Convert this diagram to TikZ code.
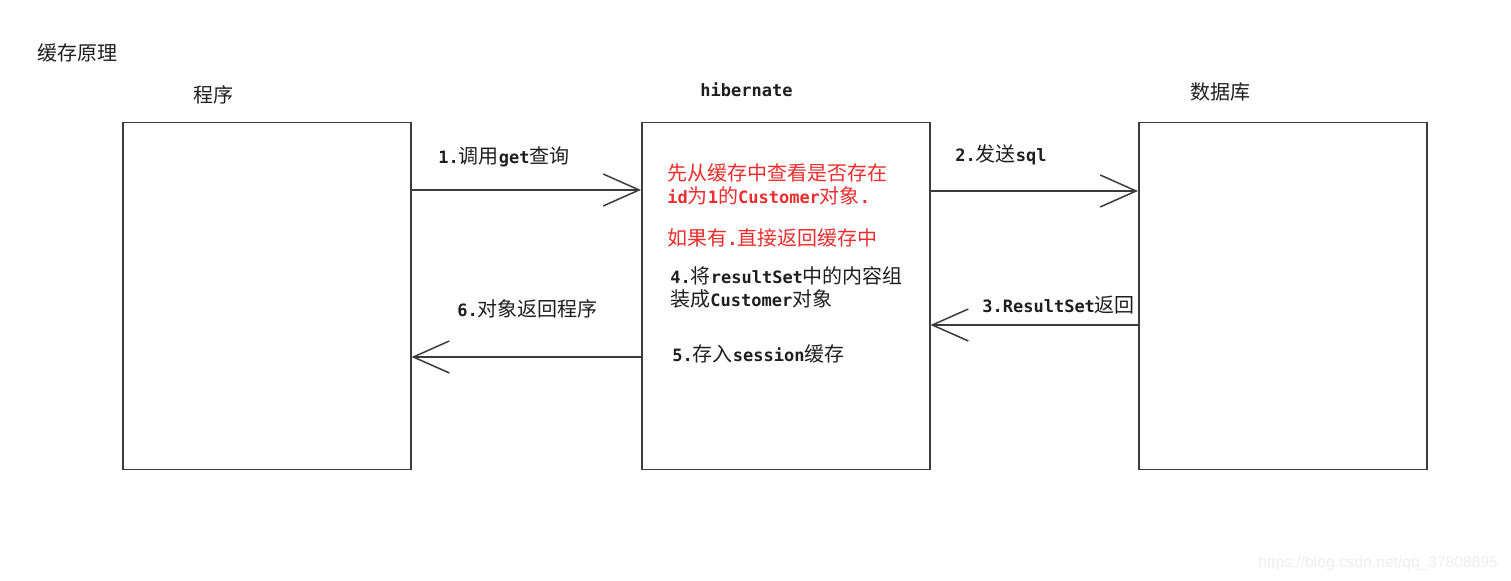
\documentclass[tikz,border=0pt]{standalone}
\usepackage{fontspec}
\setmainfont{Noto Sans CJK SC}
\newfontfamily\monofam{DejaVu Sans Mono}[Scale=0.85]
\newfontfamily\wmfont{Liberation Sans}
\usetikzlibrary{arrows.meta}
\definecolor{txt}{RGB}{30,30,30}
\definecolor{line}{RGB}{60,60,60}
\definecolor{redtxt}{RGB}{235,45,45}
\newcommand{\m}[1]{{\monofam\bfseries #1}}

\begin{document}
\begin{tikzpicture}[
  x=0.5pt, y=-0.5pt,
  every node/.style={inner sep=0pt, font=\fontsize{10}{11.5}\selectfont, text=txt},
  box/.style={draw=line, line width=0.75pt, minimum width=144pt, minimum height=173.5pt, anchor=north west},
  lbl/.style={anchor=west, align=left},
  note/.style={lbl, text=redtxt},
  arr/.style={-{Straight Barb[length=18pt, width=16pt]}, draw=line, line width=0.75pt},
]
\useasboundingbox (0,0) rectangle (1511,581);
\node[lbl] (title) at (37,53) {缓存原理};
\node[box] (prog) at (122,122) {};
\node[box] (hib) at (641,122) {};
\node[box] (db) at (1138,122) {};
\node[lbl] (progT) at (193,95) {程序};
\node[lbl] (hibT) at (700,90) {\m{hibernate}};
\node[lbl] (dbT) at (1190,92) {数据库};
% calls and answers between the three parts
\draw[arr] ([yshift=-34pt]prog.north east) -- ([yshift=-34pt]hib.north west);
\draw[arr] ([yshift=-34.5pt]hib.north east) -- ([yshift=-34.5pt]db.north west);
\draw[arr] ([yshift=-101.5pt]db.north west) -- ([yshift=-101.5pt]hib.north east);
\draw[arr] ([yshift=-117.5pt]hib.north west) -- ([yshift=-117.5pt]prog.north east);
\node[lbl] (s1) at (438,157) {\m{1.}调用\m{get}查询};
\node[lbl] (s2) at (955,155) {\m{2.}发送\m{sql}};
\node[lbl] (s3) at (982,305) {\m{3.ResultSet}返回};
\node[lbl] (s6) at (457,309) {\m{6.}对象返回程序};
\node[note] (chk) at (667,184) {先从缓存中查看是否存在\\\m{id}为\m{1}的\m{Customer}对象\m{.}};
\node[note] (hit) at (667,238) {如果有\m{.}直接返回缓存中};
\node[lbl] (s4) at (670,287) {\m{4.}将\m{resultSet}中的内容组\\装成\m{Customer}对象};
\node[lbl] (s5) at (672,354) {\m{5.}存入\m{session}缓存};
\node[anchor=west, font=\wmfont\fontsize{7.8}{9}\selectfont, text=black!7] (wm) at (1258,563) {https://blog.csdn.net/qq\_37808895};
\end{tikzpicture}
\end{document}
